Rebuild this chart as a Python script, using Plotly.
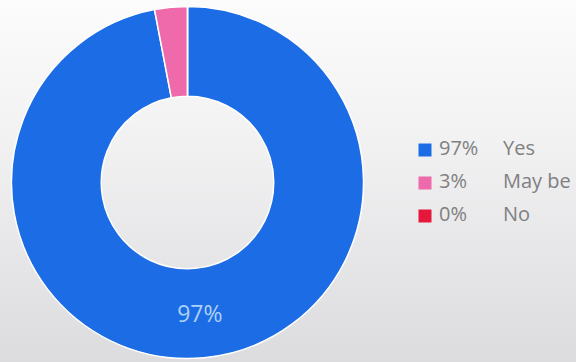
import plotly.graph_objects as go

labels = ["Yes", "May be", "No"]
values = [97, 3, 0]
colors = ["#1c6ce6", "#ee6aaa", "#e4183a"]

total = sum(values)
pct_text = [f"{round(v / total * 100)}%" for v in values]

W, H = 576, 362
fig = go.Figure()

# background vertical gradient
fig.add_trace(go.Scatter(
    x=[0, W, W, 0, 0], y=[0, 0, H, H, 0], mode="lines",
    line=dict(width=0), fill="toself",
    fillgradient=dict(type="vertical",
                      colorscale=[[0, "#dcdbde"], [0.6, "#f1f1f2"], [1, "#fcfcfd"]]),
    hoverinfo="skip", showlegend=False,
))

# donut
fig.add_trace(go.Pie(
    labels=labels, values=values,
    marker=dict(colors=colors, line=dict(color="#ffffff", width=1.5)),
    hole=0.49, sort=False, direction="clockwise", rotation=0,
    text=[pct_text[0], "", ""], textinfo="text", textposition="inside",
    insidetextorientation="horizontal",
    textfont=dict(family="Open Sans", size=23, color="#aed2f6"),
    domain=dict(x=[11.5 / W, 363.5 / W], y=[3 / H, 356 / H]),
    showlegend=False, hoverinfo="label+percent",
))

# custom legend
rows_y = [150, 183, 216]
fig.add_trace(go.Scatter(
    x=[425] * len(labels), y=rows_y, mode="markers",
    marker=dict(symbol="square", size=13, color=colors, line=dict(width=0)),
    hoverinfo="skip", showlegend=False,
))
fig.add_trace(go.Scatter(
    x=[439] * len(labels), y=rows_y, mode="text", text=pct_text,
    textposition="middle right",
    textfont=dict(family="Open Sans", size=20, color="#808080"),
    hoverinfo="skip", showlegend=False,
))
fig.add_trace(go.Scatter(
    x=[503] * len(labels), y=rows_y, mode="text", text=labels,
    textposition="middle right",
    textfont=dict(family="Open Sans", size=20, color="#808080"),
    hoverinfo="skip", showlegend=False,
))

fig.update_layout(
    width=W, height=H, margin=dict(l=0, r=0, t=0, b=0),
    paper_bgcolor="#f4f4f5", plot_bgcolor="rgba(0,0,0,0)",
    xaxis=dict(range=[0, W], visible=False, fixedrange=True, domain=[0, 1]),
    yaxis=dict(range=[H, 0], visible=False, fixedrange=True, domain=[0, 1]),
    showlegend=False,
)

fig.write_html("out.html", config={"displayModeBar": False})
